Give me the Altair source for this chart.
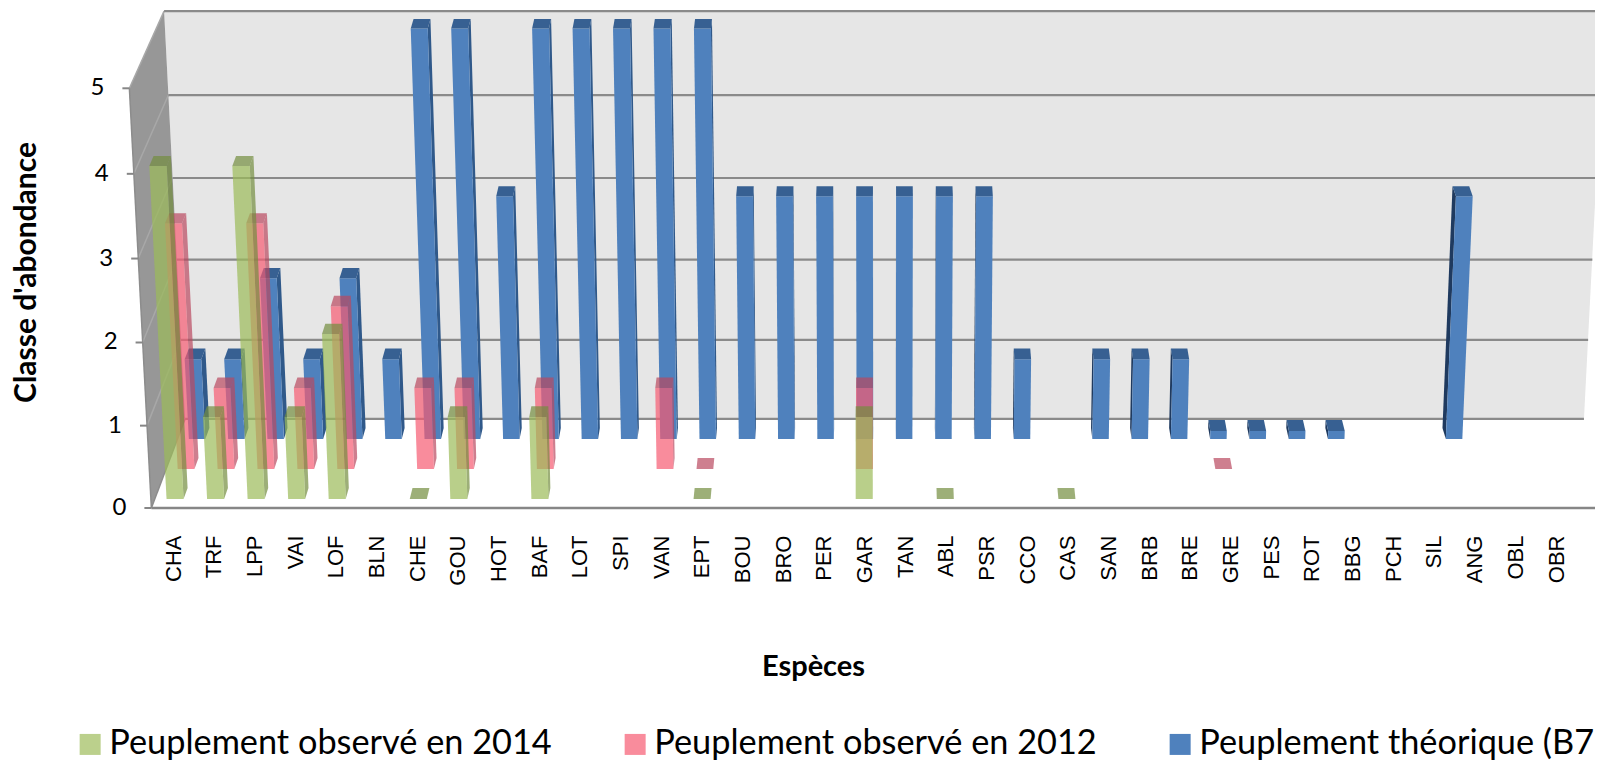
import altair as alt
import pandas as pd

species = ["CHA","TRF","LPP","VAI","LOF","BLN","CHE","GOU","HOT","BAF","LOT","SPI","VAN","EPT","BOU","BRO","PER","GAR",
           "TAN","ABL","PSR","CCO","CAS","SAN","BRB","BRE","GRE","PES","ROT","BBG","PCH","SIL","ANG","OBL","OBR"]
obs2014 = {"CHA":4,"TRF":1,"LPP":4,"VAI":1,"LOF":2,"CHE":0,"GOU":1,"BAF":1,"EPT":0,"GAR":1,"ABL":0,"CAS":0}
obs2012 = {"CHA":3,"TRF":1,"LPP":3,"VAI":1,"LOF":2,"CHE":1,"GOU":1,"BAF":1,"VAN":1,"EPT":0,"GAR":1,"GRE":0}
theorique = {"CHA":1,"TRF":1,"LPP":2,"VAI":1,"LOF":2,"BLN":1,"CHE":5,"GOU":5,"HOT":3,"BAF":5,"LOT":5,"SPI":5,"VAN":5,"EPT":5,
             "BOU":3,"BRO":3,"PER":3,"GAR":3,"TAN":3,"ABL":3,"PSR":3,"CCO":1,"SAN":1,"BRB":1,"BRE":1,
             "GRE":0.1,"PES":0.1,"ROT":0.1,"BBG":0.1,"ANG":3}
series_names = ["Peuplement observé en 2014","Peuplement observé en 2012","Peuplement théorique (B7"]
legend_colors = ["#BBD08C","#F98C9C","#4F81BD"]
y_ticks = [0,1,2,3,4,5]

W, H = 1587, 752
DEPTH = 0.37
HALF = 0.21
Z_WALL = 2.67
Z_FRONT = -0.3

# 3-D projection of (category index, depth plane, class value) to the screen
def sx(i, z, v):
    return 884.5 - 8 + (i - 17.5) * (40.54 - 0.63 * z) * (1 + 0.006 * v)

def sy(z, v):
    return 499 - 8 - 30 * z - ((81.6 - 1.2 * z) * v + (0.42 + 0.08 * z) * v * v)

def section(poly):
    """Horizontal cross-sections of a convex polygon, for a horizontal area mark."""
    rows = []
    n = len(poly)
    for y in sorted({p[1] for p in poly}):
        xs = []
        for k in range(n):
            (x1, y1), (x2, y2) = poly[k], poly[(k + 1) % n]
            if min(y1, y2) <= y <= max(y1, y2):
                if y1 == y2:
                    xs += [x1, x2]
                else:
                    xs.append(x1 + (x2 - x1) * (y - y1) / (y2 - y1))
        rows.append((y, min(xs), max(xs)))
    return rows

def P(i, z, v):
    return (sx(i, z, v), sy(z, v))

SX = alt.Scale(domain=[0, W], range=[0, W], zero=False, nice=False)
SY = alt.Scale(domain=[0, H], range=[0, H], zero=False, nice=False)

def area(rows, opacity=1.0):
    df = pd.DataFrame(rows, columns=["id", "fill", "y", "xl", "xr"])
    return alt.Chart(df).mark_area(orient="horizontal", opacity=opacity).encode(
        x=alt.X("xl:Q", scale=SX, axis=None, stack=False),
        x2="xr:Q",
        y=alt.Y("y:Q", scale=SY, axis=None),
        detail="id:N",
        fill=alt.Fill("fill:N", scale=None),
    )

def lines(rows, color, width):
    df = pd.DataFrame(rows, columns=["x1", "y1", "x2", "y2"])
    return alt.Chart(df).mark_rule(color=color, strokeWidth=width).encode(
        x=alt.X("x1:Q", scale=SX, axis=None),
        x2="x2:Q",
        y=alt.Y("y1:Q", scale=SY, axis=None),
        y2="y2:Q",
    )

def faces(values, z, front, cap, side_r, side_l, opacity):
    side, fr, top = [], [], []
    for name, v in values.items():
        i = species.index(name)
        a, b = i - HALF, i + HALF
        if v > 0:
            fr += [(name, front, *r) for r in section([P(a, z, 0), P(b, z, 0), P(b, z, v), P(a, z, v)])]
            e = b if b < 17.5 else a
            poly = [P(e, z, 0), P(e, z, v), P(e, z + DEPTH, v), P(e, z + DEPTH, 0)]
            col = side_r if b < 17.5 else side_l
            side += [(name, col, *r) for r in section(poly)]
        top += [(name, cap, *r) for r in section([P(a, z, v), P(b, z, v), P(b, z + DEPTH, v), P(a, z + DEPTH, v)])]
    return [area(side, opacity), area(fr, opacity), area(top, opacity)]

layers = []
# walls
L, R = -0.5, 35.5
layers.append(area([("back", "#E6E6E6", *r) for r in section(
    [P(L, Z_WALL, 0), P(R, Z_WALL, 0), P(R, Z_WALL, 5), P(L, Z_WALL, 5)])]))
layers.append(area([("left", "#979797", *r) for r in section(
    [P(L, Z_FRONT, 0), P(L, Z_WALL, 0), P(L, Z_WALL, 5), P(L, Z_FRONT, 5)])]))
# gridlines, wall edges, ticks
layers.append(lines([(*P(L, Z_FRONT, t), *P(L, Z_WALL, t)) for t in y_ticks[1:]], "#A8A8A8", 1.5))
layers.append(lines([(*P(L, Z_FRONT, 0), *P(L, Z_WALL, 0)), (*P(L, Z_FRONT, 0), *P(L, Z_FRONT, 5))], "#8C8C8C", 1.5))
layers.append(lines([(*P(L, Z_WALL, t), *P(R, Z_WALL, t)) for t in y_ticks], "#8A8A8A", 2.2))
layers.append(lines([(*P(L, Z_FRONT, 0), *P(R, Z_FRONT, 0))], "#868686", 2.6))
layers.append(lines([(sx(L, Z_FRONT, t) - 7, sy(Z_FRONT, t), sx(L, Z_FRONT, t), sy(Z_FRONT, t)) for t in y_ticks], "#868686", 2))

# bars, back to front
layers += faces(theorique, 2, "#4F81BD", "#376092", "#30598A", "#1F3A5F", 1.0)
layers += faces(obs2012, 1, "#F65B72", "#B9485F", "#B9485F", "#B9485F", 0.7)
layers += faces(obs2014, 0, "#9BBB59", "#738D3E", "#738D3E", "#738D3E", 0.7)

# y tick labels follow the slanted axis
tick_df = pd.DataFrame({"t": y_ticks})
tick_df["x"] = [sx(L, Z_FRONT, t) - 25 for t in y_ticks]
tick_df["y"] = [sy(Z_FRONT, t) for t in y_ticks]
layers.append(alt.Chart(tick_df).mark_text(align="right", baseline="middle", font="Lato", fontSize=24, color="black").encode(
    x=alt.X("x:Q", scale=SX, axis=None),
    y=alt.Y("y:Q", scale=SY, axis=None),
    text="t:N",
))

# axes and legend, from the values themselves
long_rows = []
for nm, vals in zip(series_names, [obs2014, obs2012, theorique]):
    long_rows += [{"species": k, "value": v, "series": nm} for k, v in vals.items()]
long_df = pd.DataFrame(long_rows)
layers.append(alt.Chart(long_df).mark_square(size=0, opacity=0).encode(
    x=alt.X("species:N", scale=alt.Scale(type="point", domain=species, range=[165, 1548], padding=0),
            axis=alt.Axis(orient="bottom", offset=-225, labelAngle=270, labelAlign="right", labelBaseline="middle",
                          labelFont="Liberation Sans", labelFontSize=22, labelColor="black", labelPadding=0,
                          labelOverlap=False, labelFlush=False, ticks=False, domain=False, grid=False,
                          title="Espèces", titleFont="Lato", titleFontSize=29, titleFontWeight="bold", titleColor="black",
                          titleX=805, titleY=117, titleAlign="center")),
    y=alt.Y("value:Q", scale=alt.Scale(domain=[0, 5], range=[500, 78], nice=False),
            axis=alt.Axis(orient="left", labels=False, ticks=False, domain=False, grid=False,
                          title="Classe d'abondance", titleFont="Lato", titleFontSize=30, titleFontWeight="bold",
                          titleColor="black", titleAngle=270, titleX=27, titleY=264, titleAlign="center",
                          titleBaseline="alphabetic")),
    color=alt.Color("series:N", scale=alt.Scale(domain=series_names, range=legend_colors),
                    legend=alt.Legend(orient="none", legendX=65, legendY=719, direction="horizontal", columns=3,
                                      title=None, symbolType="square", symbolSize=441, symbolOpacity=1,
                                      symbolStrokeWidth=0, labelFont="Lato", labelFontSize=34.3, labelColor="black",
                                      labelLimit=0, labelOffset=2, columnPadding=66, padding=0)),
))

chart = alt.layer(*layers).resolve_scale(x="independent", y="independent").properties(
    width=W, height=H, padding=0, autosize=alt.AutoSizeParams(type="none", contains="content"),
).configure_view(stroke=None)

chart.save("out.html", embed_options={"renderer": "svg", "actions": False})
